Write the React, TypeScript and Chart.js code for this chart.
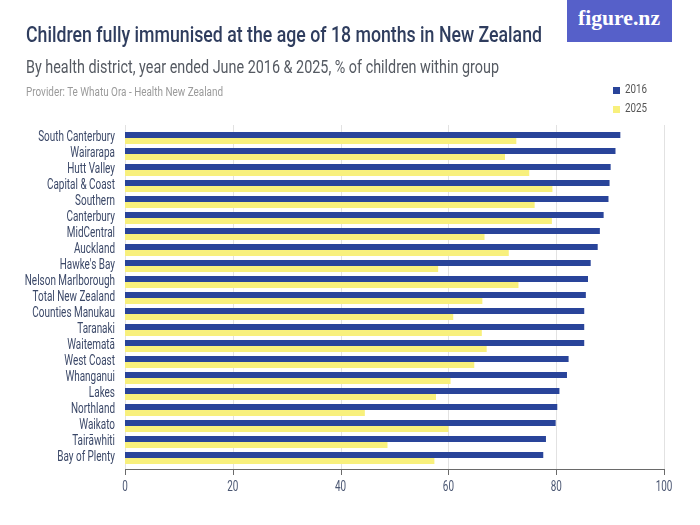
import React, { useEffect, useLayoutEffect, useRef } from "react";
import { Chart, registerables } from "chart.js";

Chart.register(...registerables);

const categories = [
  "South Canterbury",
  "Wairarapa",
  "Hutt Valley",
  "Capital & Coast",
  "Southern",
  "Canterbury",
  "MidCentral",
  "Auckland",
  "Hawke's Bay",
  "Nelson Marlborough",
  "Total New Zealand",
  "Counties Manukau",
  "Taranaki",
  "Waitematā",
  "West Coast",
  "Whanganui",
  "Lakes",
  "Northland",
  "Waikato",
  "Tairāwhiti",
  "Bay of Plenty",
];

const values2016 = [
  91.9, 91.0, 90.1, 89.9, 89.7, 88.8, 88.1, 87.7, 86.4, 85.9, 85.5, 85.2,
  85.2, 85.2, 82.3, 82.0, 80.6, 80.2, 79.9, 78.1, 77.6,
];

const values2025 = [
  72.6, 70.5, 75.0, 79.3, 76.0, 79.2, 66.7, 71.2, 58.1, 73.0, 66.3, 60.9,
  66.2, 67.1, 64.8, 60.4, 57.7, 44.5, 60.0, 48.7, 57.4,
];

const seriesNames = ["2016", "2025"];
const xTicks = [0, 20, 40, 60, 80, 100];

const BLUE = "#29449a";
const YELLOW = "#f8f07c";
const FONT = "Roboto, 'Liberation Sans', sans-serif";

// Grid lines, axis line and tick marks, positioned through the x scale.
const gridPlugin = {
  id: "customGrid",
  beforeDatasetsDraw(chart: any) {
    const { ctx, chartArea, scales } = chart;
    const x = scales.x;
    const top = chartArea.top - 5;
    const axisY = chartArea.bottom + 3;
    ctx.save();
    ctx.strokeStyle = "#e2e2e2";
    ctx.lineWidth = 1;
    xTicks.forEach((t) => {
      const px = Math.round(x.getPixelForValue(t)) + 0.5;
      ctx.beginPath();
      ctx.moveTo(px, top);
      ctx.lineTo(px, axisY);
      ctx.stroke();
    });
    ctx.strokeStyle = "#6a6a6a";
    ctx.beginPath();
    ctx.moveTo(Math.round(x.getPixelForValue(0)), axisY + 0.5);
    ctx.lineTo(Math.round(x.getPixelForValue(100)) + 1, axisY + 0.5);
    ctx.stroke();
    xTicks.forEach((t) => {
      const px = Math.round(x.getPixelForValue(t)) + 0.5;
      ctx.beginPath();
      ctx.moveTo(px, axisY);
      ctx.lineTo(px, axisY + 6);
      ctx.stroke();
    });
    ctx.restore();
  },
};

// Condensed tick labels (the reference uses a narrow grotesque face).
const labelPlugin = {
  id: "condensedLabels",
  afterDraw(chart: any) {
    const { ctx, chartArea, scales } = chart;
    const y = scales.y;
    const x = scales.x;
    ctx.save();
    ctx.font = `14px ${FONT}`;
    ctx.fillStyle = "#3b4868";
    ctx.textAlign = "right";
    ctx.textBaseline = "alphabetic";
    const sy = 76.8 / ctx.measureText("South Canterbury").width;
    categories.forEach((lab, i) => {
      const py = y.getPixelForValue(i);
      ctx.save();
      ctx.translate(chartArea.left - 10, py + 2.7);
      ctx.scale(sy, 1);
      ctx.fillText(lab, 0, 0);
      ctx.restore();
    });
    ctx.font = `14px ${FONT}`;
    ctx.fillStyle = "#4a5672";
    ctx.textAlign = "center";
    const sx = 16.7 / ctx.measureText("100").width;
    xTicks.forEach((t) => {
      const px = x.getPixelForValue(t);
      ctx.save();
      ctx.translate(px, chartArea.bottom + 25);
      ctx.scale(sx, 1);
      ctx.fillText(String(t), 0, 0);
      ctx.restore();
    });
    ctx.restore();
  },
};

function FitText(props: {
  text: string;
  left: number;
  baseline: number;
  size: number;
  width: number;
  color: string;
  weight?: number;
  family?: string;
}) {
  const ref = useRef<HTMLSpanElement | null>(null);
  useLayoutEffect(() => {
    const el = ref.current;
    if (!el) return;
    el.style.transform = "none";
    const w = el.getBoundingClientRect().width;
    if (w > 0) el.style.transform = `scaleX(${props.width / w})`;
  });
  const fam = props.family || FONT;
  return (
    <span
      ref={ref}
      style={{
        position: "absolute",
        left: props.left,
        top: props.baseline - props.size * 0.8415,
        fontSize: props.size,
        lineHeight: `${props.size}px`,
        fontFamily: fam,
        fontWeight: props.weight || 400,
        color: props.color,
        whiteSpace: "nowrap",
        transformOrigin: "0 0",
      }}
    >
      {props.text}
    </span>
  );
}

export default function App() {
  const canvasRef = useRef<HTMLCanvasElement | null>(null);

  useEffect(() => {
    if (!canvasRef.current) return;
    const chart = new Chart(canvasRef.current, {
      type: "bar",
      data: {
        labels: categories,
        datasets: [
          {
            label: seriesNames[0],
            data: values2016,
            backgroundColor: BLUE,
            categoryPercentage: 0.75,
            barPercentage: 1.0,
          },
          {
            label: seriesNames[1],
            data: values2025,
            backgroundColor: YELLOW,
            categoryPercentage: 0.75,
            barPercentage: 1.0,
          },
        ],
      },
      options: {
        indexAxis: "y",
        responsive: false,
        animation: false,
        devicePixelRatio: 1,
        layout: { padding: { top: 130, right: 36, left: 0, bottom: 0 } },
        plugins: {
          legend: { display: false },
          tooltip: { enabled: false },
          title: { display: false },
        },
        scales: {
          x: {
            type: "linear",
            min: 0,
            max: 100,
            afterBuildTicks: (scale: any) => {
              scale.ticks = xTicks.map((v) => ({ value: v }));
            },
            afterFit: (scale: any) => {
              scale.height = 59;
            },
            grid: { display: false },
            border: { display: false },
            ticks: { display: false },
          },
          y: {
            type: "category",
            afterFit: (scale: any) => {
              scale.width = 125;
            },
            grid: { display: false },
            border: { display: false },
            ticks: { display: false, autoSkip: false },
          },
        },
      },
      plugins: [gridPlugin, labelPlugin],
    } as any);
    return () => chart.destroy();
  }, []);

  return (
    <div
      style={{
        position: "fixed",
        left: 0,
        top: 0,
        width: 700,
        height: 525,
        background: "#ffffff",
        fontFamily: FONT,
        overflow: "hidden",
      }}
    >
      <canvas
        ref={canvasRef}
        width={700}
        height={525}
        style={{ position: "absolute", left: 0, top: 0, width: 700, height: 525 }}
      />
      <FitText
        text="Children fully immunised at the age of 18 months in New Zealand"
        left={26}
        baseline={43}
        size={22}
        width={516}
        color="#2f3d5e"
        weight={500}
      />
      <FitText
        text="By health district, year ended June 2016 & 2025, % of children within group"
        left={26}
        baseline={74}
        size={17.5}
        width={473}
        color="#555a62"
      />
      <FitText
        text="Provider: Te Whatu Ora - Health New Zealand"
        left={26}
        baseline={97}
        size={12.5}
        width={197}
        color="#9a9a9a"
      />
      <div
        style={{
          position: "absolute",
          left: 567,
          top: 0,
          width: 105,
          height: 42,
          background: "#5660c9",
        }}
      />
      <FitText
        text="figure.nz"
        left={578}
        baseline={26}
        size={22}
        width={82}
        color="#ffffff"
        weight={700}
        family="'Liberation Serif', 'DejaVu Serif', serif"
      />
      {seriesNames.map((name, i) => (
        <React.Fragment key={name}>
          <div
            style={{
              position: "absolute",
              left: 613,
              top: 87 + i * 19,
              width: 7,
              height: 7,
              background: i === 0 ? BLUE : YELLOW,
            }}
          />
          <FitText
            text={name}
            left={625}
            baseline={93.3 + i * 19}
            size={12}
            width={22}
            color="#555555"
          />
        </React.Fragment>
      ))}
    </div>
  );
}
